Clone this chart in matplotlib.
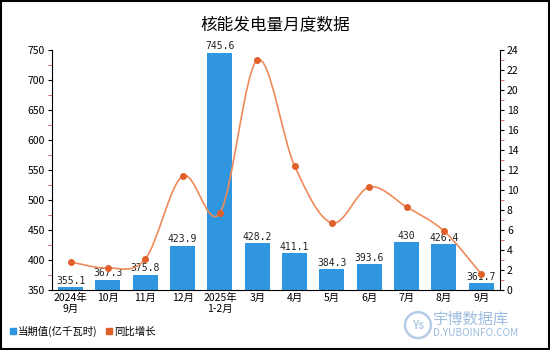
import numpy as np
import matplotlib.pyplot as plt
from matplotlib.path import Path
from matplotlib.patches import PathPatch, Rectangle, Ellipse

plt.rcParams['font.family'] = ['Noto Sans CJK SC', 'DejaVu Sans']

months = ['2024年\n9月', '10月', '11月', '12月', '2025年\n1-2月', '3月', '4月',
          '5月', '6月', '7月', '8月', '9月']
output = [355.1, 367.3, 375.8, 423.9, 745.6, 428.2, 411.1, 384.3, 393.6, 430, 426.4, 361.7]
growth = [2.8, 2.2, 3.1, 11.4, 7.7, 23.0, 12.4, 6.7, 10.3, 8.3, 5.9, 1.6]

bar_color = '#2f96df'
line_color = '#ef8a5a'
dot_color = '#e0602a'

fig = plt.figure(figsize=(5.5, 3.5), dpi=100)
ax = fig.add_axes([0.0945, 0.1714, 0.8145, 0.6857])
ax2 = ax.twinx()

x = np.arange(len(months))
ax.bar(x, output, width=0.67, color=bar_color, zorder=2)
for xi, v in zip(x, output):
    ax.text(xi, v + 2, f'{v:g}', ha='center', va='bottom',
            fontsize=7, family='DejaVu Sans Mono', color='#222222', zorder=5)

ax.set_ylim(350, 750)
ax.set_xlim(-0.5, len(months) - 0.5)
ax.set_yticks(np.arange(350, 751, 50))
ax.set_yticks(np.arange(375, 750, 50), minor=True)
ax.set_xticks(x)
ax.set_xticklabels(months, fontsize=7.5, linespacing=1.1)
ax.tick_params(axis='y', labelsize=7.5, length=3, pad=2)
ax.tick_params(axis='y', which='minor', length=3, color='#e05050')
ax.tick_params(axis='x', length=0, pad=2)
for s in ['top', 'right']:
    ax.spines[s].set_visible(False)

# smooth curve through the growth points (Catmull-Rom as cubic Bezier)
pts = np.column_stack([x, growth]).astype(float)
verts = [tuple(pts[0])]
codes = [Path.MOVETO]
for i in range(len(pts) - 1):
    p0 = pts[i - 1] if i > 0 else pts[i]
    p1, p2 = pts[i], pts[i + 1]
    p3 = pts[i + 2] if i + 2 < len(pts) else pts[i + 1]
    c1 = p1 + (p2 - p0) / 6
    c2 = p2 - (p3 - p1) / 6
    verts += [tuple(c1), tuple(c2), tuple(p2)]
    codes += [Path.CURVE4] * 3
ax2.add_patch(PathPatch(Path(verts, codes), fill=False, edgecolor=line_color, lw=1.2, zorder=3))
ax2.plot(x, growth, 'o', color=dot_color, ms=4, zorder=4)
ax2.set_ylim(0, 24)
ax2.set_yticks(np.arange(0, 25, 2))
ax2.set_yticks(np.arange(1, 24, 2), minor=True)
ax2.tick_params(axis='y', labelsize=7.5, length=3, pad=2)
ax2.tick_params(axis='y', which='minor', length=3, color='#e05050')
for s in ['top', 'left', 'bottom']:
    ax2.spines[s].set_visible(False)

fig.text(0.5, 0.93, '核能发电量月度数据', ha='center', va='center', fontsize=12)

# legend
fig.patches.append(Rectangle((0.018, 0.045), 0.011, 0.017, transform=fig.transFigure,
                             color=bar_color))
fig.text(0.033, 0.053, '当期值(亿千瓦时)', fontsize=7.5, va='center')
fig.patches.append(Rectangle((0.192, 0.045), 0.011, 0.017, transform=fig.transFigure,
                             color=dot_color))
fig.text(0.207, 0.053, '同比增长', fontsize=7.5, va='center')

# watermark
fig.patches.append(Ellipse((0.76, 0.071), 0.047, 0.074, transform=fig.transFigure,
                           fill=False, edgecolor='#b5cde6', lw=1.8))
fig.text(0.76, 0.071, 'Ys', ha='center', va='center', fontsize=8, color='#b5cde6',
         style='italic', weight='bold')
fig.text(0.787, 0.088, '宇博数据库', fontsize=11, color='#9dbde0', va='center')
fig.text(0.788, 0.048, 'D.YUBOINFO.COM', fontsize=7.3, color='#9dbde0', va='center')

# frame
fig.patches.append(Rectangle((0.001, 0.002), 0.997, 0.995, transform=fig.transFigure,
                             fill=False, edgecolor='black', lw=1.5))

fig.savefig('out.png', dpi=100)
